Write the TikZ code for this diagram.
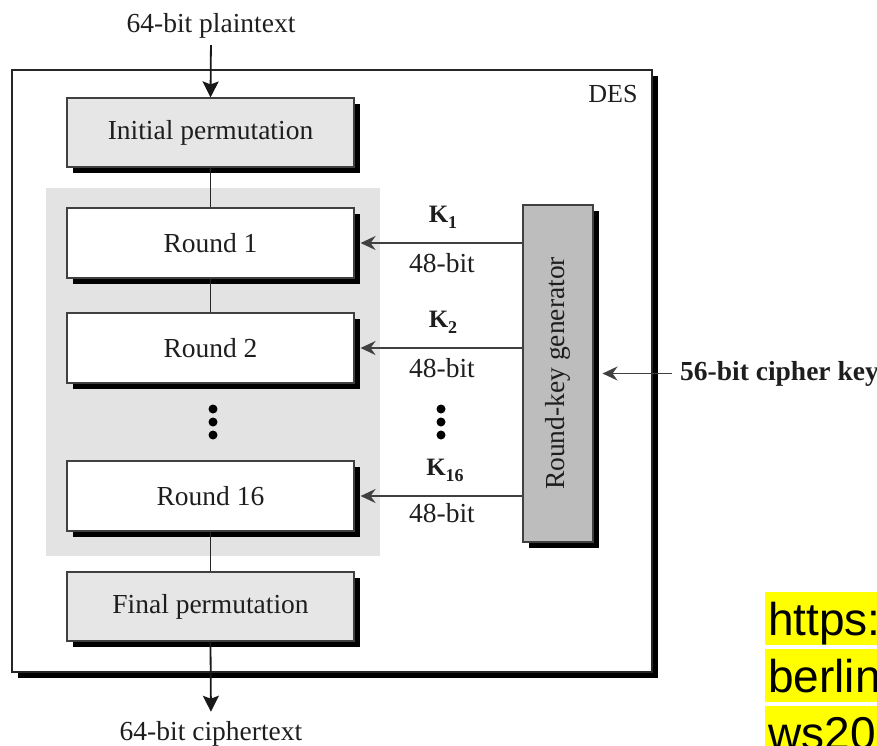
\documentclass[tikz,border=0pt]{standalone}
\usepackage{fontspec}
\setmainfont{Liberation Serif}
\newfontfamily\arialfont{Liberation Sans}
\usetikzlibrary{shadows,arrows.meta,calc}
\definecolor{txt}{HTML}{1E1E1E}
\definecolor{permgray}{HTML}{E6E6E6}
\definecolor{regiongray}{HTML}{E3E3E3}
\definecolor{kggray}{HTML}{BDBDBD}
\definecolor{hl}{HTML}{FFFF00}
\begin{document}
\begin{tikzpicture}[x=1pt,y=-1pt,
  shadowed/.style={drop shadow={shadow xshift=6pt,shadow yshift=-6pt,fill=black,opacity=1}},
  lbl/.style={inner sep=0pt,text=txt,font=\fontsize{27.5}{32}\selectfont},
  box/.style={draw=black!75,line width=1.1pt,minimum width=287pt,minimum height=70pt,
    inner sep=0pt,text=txt,font=\fontsize{27.5}{32}\selectfont,shadowed},
  permbox/.style={box,fill=permgray},
  roundbox/.style={box,fill=white},
  link/.style={draw=black!85,line width=1.8pt},
  mainarrow/.style={draw=black!90,line width=1.8pt,-{Stealth[length=16pt,width=16pt,inset=3pt]}},
  karrow/.style={draw=black!75,line width=1.7pt,-{Stealth[length=15pt,width=14pt,inset=5pt]}},
  klbl/.style={inner sep=0pt,text=txt,font=\bfseries\fontsize{25}{28}\selectfont},
  ksub/.style={},
  dot/.style={circle,fill=black,inner sep=0pt,minimum size=9pt},
  hlbox/.style={fill=hl,inner xsep=3pt,inner ysep=0pt,text height=43pt,text depth=10pt,
    anchor=base west,font=\arialfont\fontsize{46}{50}\selectfont,text=black}
]
\useasboundingbox (0,0) rectangle (877,745);
\clip (0,0) rectangle (877,745);

% outer DES frame
\node[draw=black!85,line width=1.4pt,fill=white,minimum width=640pt,minimum height=602pt,
  inner sep=0pt,shadowed] (des) at (332,371) {};
\node[lbl,anchor=base,font=\fontsize{26}{30}\selectfont] (deslbl) at (613,102) {DES};

% shaded round region
\node[fill=regiongray,minimum width=334pt,minimum height=368pt,inner sep=0pt] (grp) at (213,372) {};

% boxes
\node[permbox,minimum height=69pt] (ip) at (210.5,132.5) {Initial permutation};
\node[roundbox] (r1) at (210.5,243) {Round 1};
\node[roundbox] (r2) at (210.5,348) {Round 2};
\node[roundbox] (r16) at (210.5,496) {Round 16};
\node[permbox,minimum height=69pt] (fp) at (210.5,606.5) {Final permutation};

\node[dot] (d1) at (213,409) {};
\node[dot] (d2) at (213,422) {};
\node[dot] (d3) at (213,435) {};

% round-key generator
\node[draw=black!75,line width=1.1pt,fill=kggray,minimum width=70pt,minimum height=337pt,
  inner sep=0pt,text=txt,font=\fontsize{27.5}{32}\selectfont,shadowed] (kg) at (558,373.5)
  {\rotatebox{90}{Round-key generator}};

% inputs / outputs
\node[lbl,anchor=base] (pt) at (211,32) {64-bit plaintext};
\node[lbl,anchor=base] (ct) at (211,740) {64-bit ciphertext};
\draw[mainarrow,shorten <=7pt] (pt.south) -- (ip.north);
\draw[mainarrow,shorten >=9pt] (fp.south) -- (ct.north);

\draw[link] (ip.south) -- (r1.north);
\draw[link] (r1.south) -- (r2.north);
\draw[link] (r16.south) -- (fp.north);

% round keys
\draw[karrow] (kg.west |- r1.east) -- ([xshift=6pt]r1.east);
\draw[karrow] (kg.west |- r2.east) -- ([xshift=6pt]r2.east);
\draw[karrow] (kg.west |- r16.east) -- ([xshift=6pt]r16.east);

\node[klbl,anchor=base] (k1) at (443,222) {K\raisebox{-6pt}{\fontsize{18}{18}\selectfont 1}};
\node[lbl,anchor=base] (b1) at (442,272) {48-bit};
\node[klbl,anchor=base] (k2) at (443,327) {K\raisebox{-6pt}{\fontsize{18}{18}\selectfont 2}};
\node[lbl,anchor=base] (b2) at (442,377) {48-bit};
\node[klbl,anchor=base] (k16) at (445,475) {K\raisebox{-6pt}{\fontsize{18}{18}\selectfont 16}};
\node[lbl,anchor=base] (b16) at (442,522) {48-bit};

\node[dot] (e1) at (441,409) {};
\node[dot] (e2) at (441,422) {};
\node[dot] (e3) at (441,435) {};

% cipher key
\node[lbl,anchor=west,font=\bfseries\fontsize{27.5}{32}\selectfont] (key) at (680,373.5) {56-bit cipher key};
\draw[karrow,shorten <=8pt] (key.west) -- ([xshift=9pt]kg.east);

% highlighted link text (cut at the right edge, as in the reference)
\node[hlbox] (u1) at (765,635) {https://};
\node[hlbox] (u2) at (765,692) {berlin};
\node[hlbox] (u3) at (765,749) {ws20};
\end{tikzpicture}
\end{document}
